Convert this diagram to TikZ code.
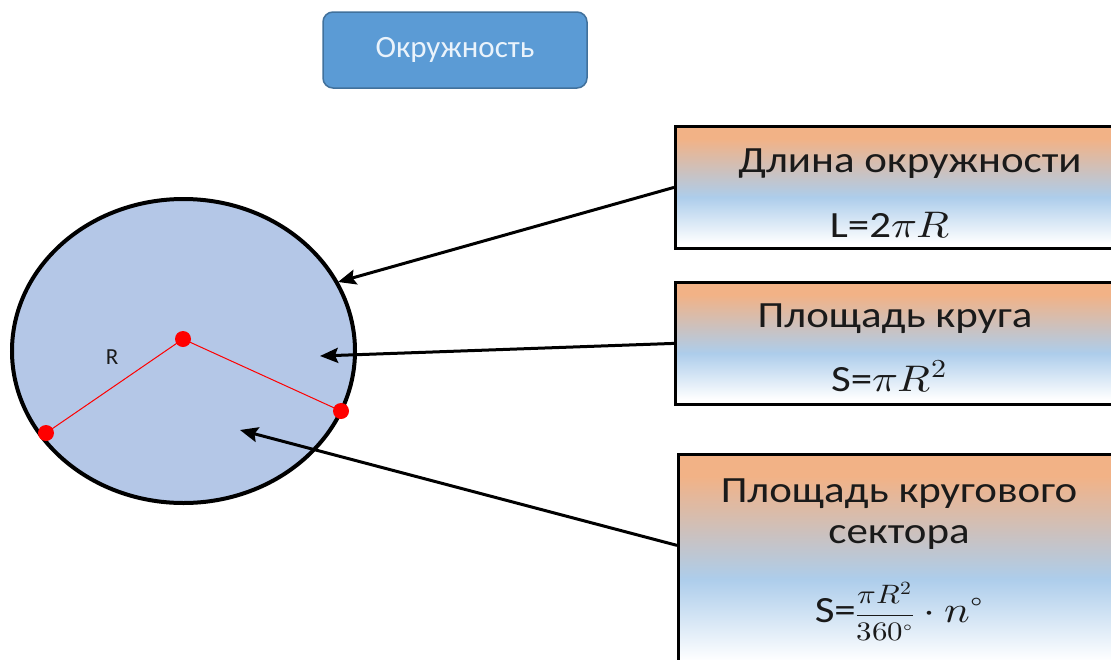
\documentclass[tikz,border=0pt]{standalone}
\usepackage{fontspec}
\usepackage{unicode-math}
\setmainfont{Carlito}
\usetikzlibrary{arrows.meta,positioning,shapes.geometric}
\definecolor{titlefill}{HTML}{5B9BD5}
\definecolor{titleline}{HTML}{41719C}
\definecolor{titletext}{HTML}{EAF3FB}
\definecolor{discfill}{HTML}{B4C7E7}
\definecolor{peach}{HTML}{F2B286}
\definecolor{skyband}{HTML}{ADCDEB}
\definecolor{ink}{HTML}{1A1A1A}
\pgfdeclareverticalshading{boxfade}{100bp}{color(0bp)=(white); color(27bp)=(white); color(46bp)=(skyband); color(70bp)=(peach); color(100bp)=(peach)}
\newcommand\widen[1]{\scalebox{1.16}[1]{#1}}

\begin{document}
\begin{tikzpicture}[
  x=1pt,y=-1pt,
  every node/.style={align=center,text=ink},
  boxtext/.style={font=\fontsize{37}{41}\selectfont,anchor=base,inner sep=0pt},
  titlebox/.style={draw=titleline,fill=titlefill,rounded corners=10pt,line width=1.5pt,minimum width=264pt,minimum height=76pt,text=titletext,font=\fontsize{31}{34}\selectfont},
  infobox/.style={draw,line width=2.8pt,shading=boxfade,minimum width=470pt,anchor=north west},
  dot/.style={circle,fill=red,inner sep=0pt,minimum size=16pt},
  ray/.style={red,line width=1pt},
  arr/.style={-{Stealth[length=18pt,width=15pt,inset=3pt]},line width=3pt}
]
\useasboundingbox (0,0) rectangle (1111,659);

\node[titlebox] (title) at (455,50) {Окружность};

\node[ellipse,draw,line width=4pt,fill=discfill,minimum width=343pt,minimum height=304pt] (disc) at (183.5,351) {};
\draw[ray] (183,339) coordinate (o) -- (46,433) coordinate (a);
\draw[ray] (o) -- (341,411) coordinate (b);
\node[dot] (odot) at (o) {};
\node[dot] (adot) at (a) {};
\node[dot] (bdot) at (b) {};
\node[font=\fontsize{23}{26}\selectfont] (rlabel) at (112,357) {R};

\node[infobox,minimum height=122pt] (len) at (674,125) {};
\node[boxtext] (lenname) at (910,172) {\widen{Длина окружности}};
\node[boxtext] (lenformula) at (890,237) {\widen{L=2$\pi R$}};

\node[infobox,minimum height=122pt] (area) at (674,281) {};
\node[boxtext] (areaname) at (895,327) {\widen{Площадь круга}};
\node[boxtext] (areaformula) at (889,391) {\widen{S=$\pi R^2$}};

\node[infobox,minimum height=215pt] (sect) at (677,453) {};
\node[boxtext] (sectname) at (899,502) {\widen{Площадь кругового}};
\node[boxtext] (sectname2) at (899,543) {\widen{сектора}};
\node[boxtext] (sectformula) at (899,622) {\widen{S=\scalebox{0.72}{$\displaystyle\frac{\pi R^2}{360^\circ}$}${}\cdot n^\circ$}};

\coordinate (lenend) at (338,282);
\coordinate (areaend) at (320,356);
\coordinate (sectend) at (240,430);
\draw[arr] (len.west) -- (lenend);
\draw[arr] (area.west) -- (areaend);
\draw[arr] (sect.176) -- (sectend);
\end{tikzpicture}
\end{document}
